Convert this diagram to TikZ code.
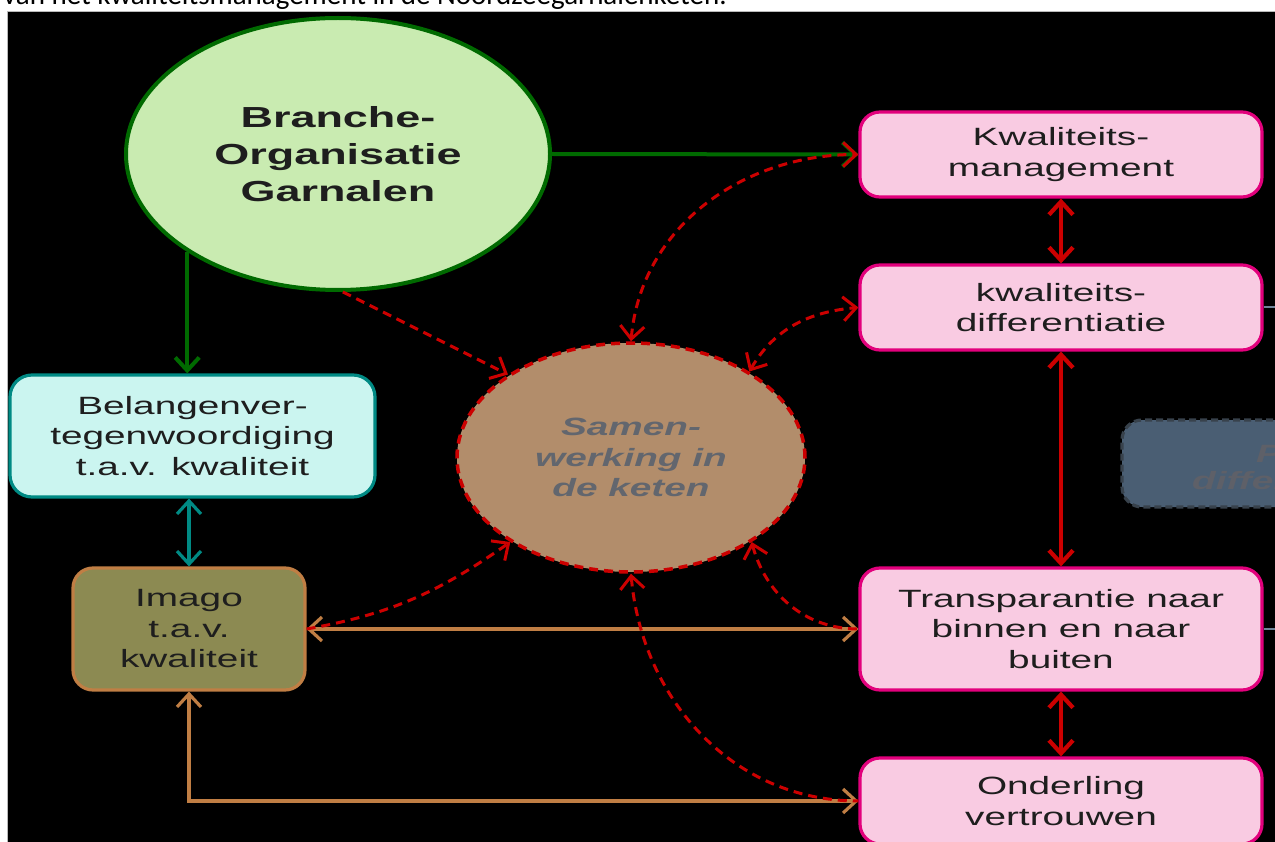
\documentclass[tikz,border=0pt]{standalone}
\usepackage{fontspec}
\setmainfont{Liberation Sans}[FakeStretch=1.55]
\newfontfamily\capFont{Carlito}
\usetikzlibrary{shapes.geometric,arrows.meta}
\definecolor{orgFill}{HTML}{C9EBB1}
\definecolor{orgLine}{HTML}{006A00}
\definecolor{pinkFill}{HTML}{F9CBE2}
\definecolor{pinkLine}{HTML}{E2007C}
\definecolor{cyanFill}{HTML}{CBF5F0}
\definecolor{tealLine}{HTML}{008A84}
\definecolor{oliveFill}{HTML}{8C8A52}
\definecolor{brownLine}{HTML}{C07E44}
\definecolor{samenFill}{HTML}{B28D6B}
\definecolor{samenText}{HTML}{62666E}
\definecolor{redLine}{HTML}{CC0000}
\definecolor{slateFill}{HTML}{4A5E73}
\definecolor{slateLine}{HTML}{38424C}
\definecolor{slateText}{HTML}{5E6068}
\definecolor{stubLine}{HTML}{6F8499}
\definecolor{txtDark}{HTML}{1E1E1E}
\newcommand{\boxFont}{\fontsize{25}{30.5}\selectfont}
\newcommand{\orgFont}{\fontsize{29}{37}\selectfont\bfseries}

\begin{document}
\begin{tikzpicture}[x=1pt,y=-1pt,
  chev/.tip={Straight Barb[length=13pt,width=24pt]},
  box/.style={rectangle, rounded corners=20pt, line width=3.2pt, inner sep=0pt, align=center, font=\boxFont, text=txtDark},
  pinkbox/.style={box, draw=pinkLine, fill=pinkFill, minimum width=402pt},
  greenarrow/.style={draw=orgLine, line width=4pt, -chev},
  dasharrow/.style={draw=redLine, line width=3pt, dash pattern=on 9pt off 6pt},
  redarrow/.style={draw=redLine, line width=4.2pt, chev-chev},
  tealarrow/.style={draw=tealLine, line width=3.2pt, chev-chev},
  brownarrow/.style={draw=brownLine, line width=3.2pt, chev-chev}]
\useasboundingbox (0,0) rectangle (1275,842);
\fill[white] (0,0) rectangle (1275,842);
\node[anchor=base west, inner sep=0pt, font=\capFont\fontsize{29}{34}\selectfont] (caption) at (3,5) {van het kwaliteitsmanagement in de Noordzeegarnalenketen.};
\fill[black] (8,12) rectangle (1285,850);
\draw[gray!55, line width=1pt] (7.5,850) -- (7.5,11.5) -- (1285,11.5);

\node[ellipse, draw=orgLine, fill=orgFill, line width=4pt, minimum width=424pt, minimum height=272pt, inner sep=0pt, align=center, font=\orgFont, text=txtDark] (branche) at (338,154) {Branche-\\Organisatie\\Garnalen};
\node[ellipse, draw=redLine, dash pattern=on 9pt off 6pt, fill=samenFill, line width=3.5pt, minimum width=348pt, minimum height=229pt, inner sep=0pt, align=center, font=\boxFont\bfseries\itshape, text=samenText] (samen) at (631,457.5) {Samen-\\werking in\\de keten};

\node[pinkbox, minimum height=85pt] (kwm) at (1061,154.5) {Kwaliteits-\\management};
\node[pinkbox, minimum height=85pt] (kwd) at (1061,307.5) {kwaliteits-\\differentiatie};
\node[pinkbox, minimum height=122pt] (transp) at (1061,629) {Transparantie naar\\binnen en naar\\buiten};
\node[pinkbox, minimum height=86pt] (onder) at (1061,801) {Onderling\\vertrouwen};
\node[box, rounded corners=22pt, draw=tealLine, fill=cyanFill, minimum width=365pt, minimum height=122pt] (belang) at (192.5,436) {Belangenver-\\tegenwoordiging\\t.a.v. kwaliteit};
\node[box, draw=brownLine, fill=oliveFill, minimum width=232pt, minimum height=122pt] (imago) at (189,629) {Imago\\t.a.v.\\kwaliteit};

\node[box, draw=slateLine, dash pattern=on 7pt off 4pt, fill=slateFill, minimum width=402pt, minimum height=87pt] (prijs) at (1323,463.5) {};
\node[anchor=base west, inner sep=0pt, font=\boxFont\bfseries\itshape, text=slateText] (prijsA) at (1256,462) {P};
\node[anchor=base west, inner sep=0pt, font=\boxFont\bfseries\itshape, text=slateText] (prijsB) at (1192,489) {differ};
\coordinate (rimA) at (1285,307.5);
\coordinate (rimB) at (1285,629);
\draw[stubLine, line width=2pt] (kwd.east) -- (rimA);
\draw[stubLine, line width=2pt] (transp.east) -- (rimB);

\draw[greenarrow] (branche.east) -- (kwm.west);
\draw[greenarrow] (branche.213) -- (branche.213 |- belang.north);
\draw[redarrow] (kwm.south) -- (kwd.north);
\draw[redarrow] (kwd.south) -- (transp.north);
\draw[redarrow] (transp.south) -- (onder.north);
\draw[tealarrow] (imago.north |- belang.south) -- (imago.north);
\draw[brownarrow] (imago.east) -- (transp.west);
\draw[brownarrow] (imago.south) |- (onder.west);

\draw[dasharrow, -chev] (branche.-88) -- (samen.146);
\draw[dasharrow, chev-chev] (samen.north) to[out=85, in=180] (kwm.west);
\draw[dasharrow, chev-chev] (samen.36) to[out=60, in=185] (kwd.west);
\draw[dasharrow, -chev] (imago.east) to[out=10, in=215] (samen.215);
\draw[dasharrow, chev-] (samen.-35) to[out=-75, in=180] (transp.west);
\draw[dasharrow, chev-] (samen.south) to[out=-85, in=180] (onder.west);
\end{tikzpicture}
\end{document}
